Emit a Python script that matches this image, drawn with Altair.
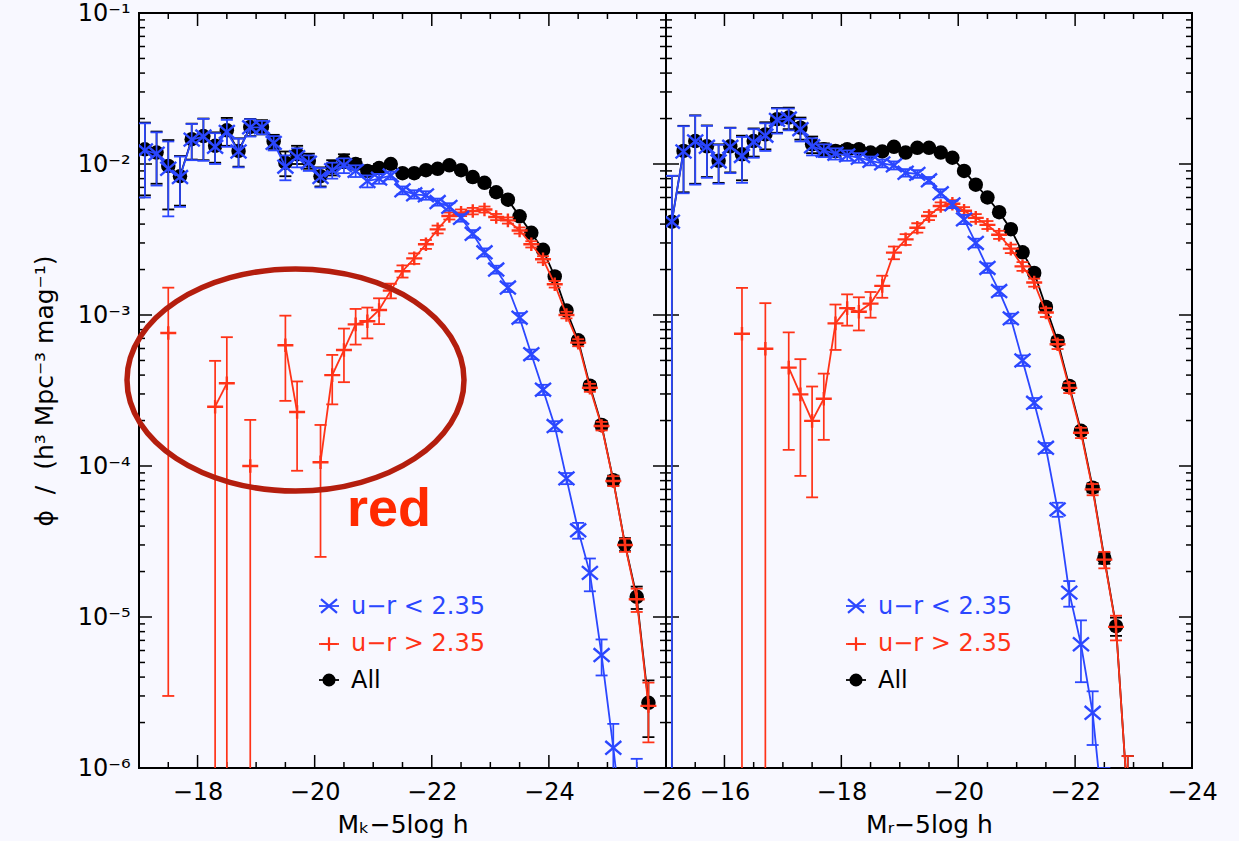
import altair as alt
import pandas as pd

FONT = "DejaVu Sans"
BLUE = "#2b47ff"
RED = "#ff3318"
RING = "#b41e0e"
BG = "#f8f8ff"

PANEL_H = 755
FLOOR = 1e-9  # stand-in for lower error bounds that fall below zero

# ---------------- K band (left panel) ----------------
K_MAG = [-17.1, -17.3, -17.5, -17.7, -17.9, -18.1, -18.3, -18.5, -18.7, -18.9,
         -19.1, -19.3, -19.5, -19.7, -19.9, -20.1, -20.3, -20.5, -20.7, -20.9,
         -21.1, -21.3, -21.5, -21.7, -21.9, -22.1, -22.3, -22.5, -22.7, -22.9,
         -23.1, -23.3, -23.5, -23.7, -23.9, -24.1, -24.3, -24.5, -24.7, -24.9,
         -25.1, -25.3, -25.5, -25.7]
K_ALL = [0.0125, 0.0119, 0.0097, 0.0083, 0.0146, 0.0153, 0.0132, 0.0167, 0.0122, 0.0176,
         0.0176, 0.0141, 0.0102, 0.0116, 0.0105, 0.0083, 0.0095, 0.0105, 0.0100, 0.0090,
         0.0094, 0.0100, 0.0087, 0.0087, 0.0091, 0.0093, 0.0098, 0.0091, 0.0082, 0.0075,
         0.0065, 0.0058, 0.0045, 0.0035, 0.0027, 0.0018, 0.00107, 0.00068, 0.00034, 0.000187,
         8.04e-5, 3.03e-5, 1.36e-5, 2.7e-6]
K_ALL_ERR = [0.0063, 0.0045, 0.0047, 0.0030, 0.0039, 0.0047, 0.0030, 0.0035, 0.0026, 0.0023,
             0.0019, 0.0015, 0.0019, 0.0016, 0.0012, 0.0012, 0.0011, 0.0011, 0.0008, 0.0007,
             0.0006, 0.0005, 0.0004, 0.0004, 0.0004, 0.0004, 0.0004, 0.0004, 0.00035, 0.0003,
             0.00026, 0.00023, 0.00018, 0.00014, 0.00011, 0.00008, 0.00005, 0.000035, 0.00002, 0.000012,
             6e-6, 3e-6, 2.3e-6, 1.1e-6]
K_BLUE = [0.0123, 0.0117, 0.0093, 0.0082, 0.0145, 0.0152, 0.0130, 0.0163, 0.0121, 0.0175,
          0.0175, 0.0138, 0.0096, 0.0111, 0.0102, 0.0082, 0.0091, 0.0098, 0.0090, 0.0077,
          0.0080, 0.0084, 0.0067, 0.0063, 0.0062, 0.0056, 0.0052, 0.0044, 0.00345, 0.0026,
          0.0020, 0.00152, 0.00096, 0.00055, 0.00032, 0.000184, 8.28e-5, 3.75e-5, 1.96e-5, 5.6e-6,
          1.36e-6, 3e-7, 1.5e-7]
K_BLUE_ERR = [0.0063, 0.0045, 0.0048, 0.0030, 0.0039, 0.0047, 0.0030, 0.0033, 0.0026, 0.0023,
              0.0018, 0.0015, 0.0018, 0.0016, 0.0012, 0.0012, 0.0011, 0.0011, 0.0008, 0.0007,
              0.0006, 0.0005, 0.0004, 0.0004, 0.0004, 0.0003, 0.0003, 0.00025, 0.0002, 0.00016,
              0.00012, 0.0001, 0.00007, 0.00004, 0.000025, 0.000014, 7e-6, 4.5e-6, 4.8e-6, 1.5e-6,
              6e-7, 6e-7, 1e-6]
K_RED_MAG = [-17.5, -18.3, -18.5, -18.9, -19.5, -19.7, -20.1, -20.3, -20.5, -20.7,
             -20.9, -21.1, -21.3, -21.5, -21.7, -21.9, -22.1, -22.3, -22.5, -22.7,
             -22.9, -23.1, -23.3, -23.5, -23.7, -23.9, -24.1, -24.3, -24.5, -24.7,
             -24.9, -25.1, -25.3, -25.5, -25.7]
K_RED = [7.6e-4, 2.47e-4, 3.53e-4, 1.0e-4, 6.3e-4, 2.28e-4, 1.06e-4, 4.0e-4, 5.86e-4, 8.67e-4,
         9.1e-4, 1.08e-3, 1.45e-3, 1.95e-3, 2.37e-3, 2.94e-3, 3.69e-3, 4.53e-3, 4.76e-3, 4.88e-3,
         5.0e-3, 4.46e-3, 4.23e-3, 3.63e-3, 2.94e-3, 2.34e-3, 1.6e-3, 1.0e-3, 6.56e-4, 3.3e-4,
         1.84e-4, 7.96e-5, 3.0e-5, 1.31e-5, 2.58e-6]
K_RED_ERR = [7.57e-4, 2.5e-4, 3.6e-4, 1.02e-4, 3.6e-4, 1.35e-4, 8.1e-5, 1.44e-4, 2.27e-4, 2.3e-4,
             2.1e-4, 2.1e-4, 1.6e-4, 1.8e-4, 1.9e-4, 2.0e-4, 2.2e-4, 2.4e-4, 2.4e-4, 2.4e-4,
             2.3e-4, 2.1e-4, 2.0e-4, 1.7e-4, 1.4e-4, 1.1e-4, 8e-5, 5e-5, 3.5e-5, 2e-5,
             1.2e-5, 6e-6, 3e-6, 2.3e-6, 1.1e-6]

# ---------------- r band (right panel) ----------------
R_MAG = [-15.1, -15.3, -15.5, -15.7, -15.9, -16.1, -16.3, -16.5, -16.7, -16.9,
         -17.1, -17.3, -17.5, -17.7, -17.9, -18.1, -18.3, -18.5, -18.7, -18.9,
         -19.1, -19.3, -19.5, -19.7, -19.9, -20.1, -20.3, -20.5, -20.7, -20.9,
         -21.1, -21.3, -21.5, -21.7, -21.9, -22.1, -22.3, -22.5, -22.7, -22.9]
R_ALL = [4.15e-3, 0.0122, 0.0142, 0.0131, 0.0105, 0.0131, 0.0116, 0.0142, 0.0157, 0.0198,
         0.0203, 0.0174, 0.0135, 0.0125, 0.0122, 0.0125, 0.0125, 0.0119, 0.0121, 0.0130,
         0.0119, 0.0128, 0.0128, 0.0119, 0.0110, 0.0090, 0.0073, 0.0060, 0.0048, 0.0037,
         0.0026, 0.0019, 0.00113, 6.73e-4, 3.39e-4, 1.71e-4, 7.18e-5, 2.45e-5, 8.7e-6, 6e-7]
R_ALL_ERR = [4.2e-3, 0.0057, 0.0068, 0.0049, 0.0030, 0.0043, 0.0038, 0.0030, 0.0032, 0.0037,
             0.0033, 0.0029, 0.0017, 0.0012, 0.0010, 0.0009, 0.0008, 0.0007, 0.0006, 0.0006,
             0.0005, 0.0005, 0.0005, 0.0004, 0.0004, 0.0004, 0.0003, 0.0003, 0.00025, 0.0002,
             0.00014, 0.0001, 0.00007, 0.00004, 0.00002, 0.00001, 5e-6, 2e-6, 1.2e-6, 6e-7]
R_BLUE = [4.15e-3, 0.0121, 0.0141, 0.0130, 0.0104, 0.0130, 0.0113, 0.0140, 0.0154, 0.0196,
          0.0200, 0.0170, 0.0131, 0.0123, 0.0117, 0.0114, 0.0110, 0.0105, 0.0101, 0.0098,
          0.00875, 0.0086, 0.0078, 0.0064, 0.0054, 0.0043, 0.0030, 0.00205, 0.00144, 9.5e-4,
          5.0e-4, 2.62e-4, 1.32e-4, 5.16e-5, 1.45e-5, 6.6e-6, 2.32e-6, 4e-7]
R_BLUE_ERR = [4.2e-3, 0.0057, 0.0068, 0.0049, 0.0030, 0.0043, 0.0038, 0.0030, 0.0032, 0.0037,
              0.0033, 0.0029, 0.0017, 0.0012, 0.0010, 0.0009, 0.0008, 0.0007, 0.0006, 0.0006,
              0.0005, 0.0005, 0.0004, 0.0004, 0.0003, 0.0003, 0.0002, 0.00015, 0.0001, 0.00007,
              0.00004, 0.00002, 0.00001, 5.5e-6, 2.8e-6, 2.9e-6, 9e-7, 6e-7]
R_RED_MAG = [-16.3, -16.7, -17.1, -17.3, -17.5, -17.7, -17.9, -18.1, -18.3, -18.5,
             -18.7, -18.9, -19.1, -19.3, -19.5, -19.7, -19.9, -20.1, -20.3, -20.5,
             -20.7, -20.9, -21.1, -21.3, -21.5, -21.7, -21.9, -22.1, -22.3, -22.5,
             -22.7, -22.9]
R_RED = [7.52e-4, 5.98e-4, 4.48e-4, 2.98e-4, 1.99e-4, 2.79e-4, 8.8e-4, 1.11e-3, 1.05e-3, 1.19e-3,
         1.56e-3, 2.59e-3, 3.17e-3, 3.78e-3, 4.53e-3, 5.27e-3, 5.46e-3, 4.9e-3, 4.4e-3, 3.95e-3,
         3.4e-3, 2.75e-3, 2.1e-3, 1.64e-3, 1.04e-3, 6.4e-4, 3.29e-4, 1.66e-4, 7.0e-5, 2.4e-5,
         8.6e-6, 6e-7]
R_RED_ERR = [7.6e-4, 6.0e-4, 3.2e-4, 2.12e-4, 1.37e-4, 1.3e-4, 2.93e-4, 2.6e-4, 2.6e-4, 2.3e-4,
             2.6e-4, 2.5e-4, 2.6e-4, 2.7e-4, 2.8e-4, 3.0e-4, 3.0e-4, 2.8e-4, 2.6e-4, 2.4e-4,
             2.1e-4, 1.8e-4, 1.4e-4, 1.0e-4, 7e-5, 4.5e-5, 2.5e-5, 1.3e-5, 6e-6, 3e-6,
             1.6e-6, 6e-7]

# ---------------- axes ----------------
Y_MAJOR = [1e-1, 1e-2, 1e-3, 1e-4, 1e-5, 1e-6]
Y_LABELS = ["10⁻¹", "10⁻²", "10⁻³", "10⁻⁴", "10⁻⁵", "10⁻⁶"]
Y_MINOR = [m * d for d in Y_MAJOR[1:] for m in range(2, 10)]
K_MAJOR = [-18, -20, -22, -24, -26]
K_MINOR = [-17.5, -18.5, -19.0, -19.5, -20.5, -21.0, -21.5, -22.5, -23.0, -23.5, -24.5, -25.0, -25.5]
R_MAJOR = [-16, -18, -20, -22, -24]
R_MINOR = [-15.5, -16.5, -17.0, -17.5, -18.5, -19.0, -19.5, -20.5, -21.0, -21.5, -22.5, -23.0, -23.5]

Y_TITLE = "ϕ\u00a0\u00a0/\u00a0\u00a0(h³ Mpc⁻³ mag⁻¹)"
K_TITLE = "Mₖ−5log h"
R_TITLE = "Mᵣ−5log h"
LEGEND = ["u−r < 2.35", "u−r > 2.35", "All"]

X_SHAPE = "M-1,-0.85L1,0.85M-1,0.85L1,-0.85"
PLUS_SHAPE = "M-1,0L1,0M0,-0.85L0,0.85"
RING_SHAPE = ("M-1,0C-1,-0.364,-0.552,-0.659,0,-0.659C0.552,-0.659,1,-0.364,1,0"
              "C1,0.364,0.552,0.659,0,0.659C-0.552,0.659,-1,0.364,-1,0Z")

# label expression turning the decade values into 10⁻ⁿ strings
label_expr = "'" + Y_LABELS[-1] + "'"
for v, t in reversed(list(zip(Y_MAJOR[:-1], Y_LABELS[:-1]))):
    label_expr = f"datum.value > {v * 0.5} ? '{t}' : ({label_expr})"


def frame(mag, phi, err):
    """Long table of one sample; 'seg' splits the line where bins are missing."""
    rows, seg = [], 0
    for i, (m, p, e) in enumerate(zip(mag, phi, err)):
        if i and abs(m - mag[i - 1]) > 0.25:
            seg += 1
        lo = p - e
        rows.append({"mag": m, "phi": p, "hi": p + e, "lo": lo if lo > 0 else FLOOR, "seg": seg})
    return pd.DataFrame(rows)


def panel(width, domain, major, minor, x_title, samples, with_y_axis, notes):
    xs = alt.Scale(domain=domain, reverse=True, nice=False, zero=False)
    ys = alt.Scale(type="log", domain=[1e-6, 1e-1], nice=False)
    xaxis = alt.Axis(title=x_title, values=major, format="d", ticks=False, domain=False,
                     grid=False, labelFlush=False, labelOverlap=False,
                     labelPadding=12, titlePadding=8)
    if with_y_axis:
        yaxis = alt.Axis(title=Y_TITLE, values=Y_MAJOR, labelExpr=label_expr, ticks=False,
                         domain=False, grid=False, labelFlush=False, labelOverlap=False,
                         labelPadding=9, titlePadding=20)
    else:
        yaxis = None

    def X(f):
        return alt.X(f"{f}:Q", scale=xs, axis=xaxis)

    def Y(f):
        return alt.Y(f"{f}:Q", scale=ys, axis=yaxis)

    layers = []
    # inward ticks on all four sides
    for vals, ln in ((major, 13), (minor, 6)):
        d = pd.DataFrame({"mag": vals})
        layers.append(alt.Chart(d).mark_rule(color="black", strokeWidth=1.5).encode(
            x=X("mag"), y=alt.value(PANEL_H), y2=alt.value(PANEL_H - ln)))
        layers.append(alt.Chart(d).mark_rule(color="black", strokeWidth=1.5).encode(
            x=X("mag"), y=alt.value(0), y2=alt.value(ln)))
    for vals, ln in ((Y_MAJOR, 13), (Y_MINOR, 6)):
        d = pd.DataFrame({"phi": vals})
        layers.append(alt.Chart(d).mark_rule(color="black", strokeWidth=1.5).encode(
            y=Y("phi"), x=alt.value(0), x2=alt.value(ln)))
        layers.append(alt.Chart(d).mark_rule(color="black", strokeWidth=1.5).encode(
            y=Y("phi"), x=alt.value(width), x2=alt.value(width - ln)))

    for df, color, kind in samples:
        base = alt.Chart(df)
        layers.append(base.mark_line(color=color, strokeWidth=1.8, clip=True).encode(
            x=X("mag"), y=Y("phi"), detail="seg:N"))
        layers.append(base.mark_rule(color=color, strokeWidth=1.7, clip=True).encode(
            x=X("mag"), y=Y("lo"), y2="hi:Q"))
        for f in ("lo", "hi"):
            layers.append(base.mark_tick(color=color, orient="horizontal", size=12,
                                         thickness=1.8, opacity=1, clip=True).encode(
                x=X("mag"), y=Y(f)))
        if kind == "circle":
            layers.append(base.mark_circle(color=color, size=210, opacity=1, clip=True).encode(
                x=X("mag"), y=Y("phi")))
        else:
            layers.append(base.mark_point(shape=kind, size=256, filled=False, color=color,
                                          strokeWidth=2.4, opacity=1, clip=True).encode(
                x=X("mag"), y=Y("phi")))

    # key
    key = [(LEGEND[0], BLUE, X_SHAPE, 593, 601), (LEGEND[1], RED, PLUS_SHAPE, 631, 638),
           (LEGEND[2], "black", "circle", 667, 675)]
    for text, color, kind, ysym, ytext in key:
        d = pd.DataFrame({"label": [text]})
        layers.append(alt.Chart(d).mark_rule(color=color, strokeWidth=1.8).encode(
            x=alt.value(180), x2=alt.value(200), y=alt.value(ysym)))
        if kind == "circle":
            layers.append(alt.Chart(d).mark_circle(color=color, size=170, opacity=1).encode(
                x=alt.value(190), y=alt.value(ysym)))
        else:
            layers.append(alt.Chart(d).mark_point(shape=kind, size=256, filled=False, color=color,
                                                  strokeWidth=2.2, opacity=1).encode(
                x=alt.value(190), y=alt.value(ysym)))
        layers.append(alt.Chart(d).mark_text(align="left", baseline="alphabetic", font=FONT,
                                             fontSize=24, color=color).encode(
            text="label:N", x=alt.value(212), y=alt.value(ytext)))

    layers.extend(notes)
    return alt.layer(*layers).properties(width=width, height=PANEL_H)


note_df = pd.DataFrame({"label": ["red"]})
ring = alt.Chart(note_df).mark_point(shape=RING_SHAPE, size=(2 * 168.5) ** 2, filled=False,
                                     color=RING, strokeWidth=5.5, opacity=1).encode(
    x=alt.value(156.5), y=alt.value(367))
red_word = alt.Chart(note_df).mark_text(align="left", baseline="alphabetic",
                                        font="Liberation Sans", fontWeight="bold",
                                        fontSize=54, color="#ff2a00").encode(
    text="label:N", x=alt.value(208), y=alt.value(513))

left = panel(527, [-26, -17], K_MAJOR, K_MINOR, K_TITLE,
             [(frame(K_MAG, K_ALL, K_ALL_ERR), "black", "circle"),
              (frame(K_RED_MAG, K_RED, K_RED_ERR), RED, PLUS_SHAPE),
              (frame(K_MAG[:len(K_BLUE)], K_BLUE, K_BLUE_ERR), BLUE, X_SHAPE)],
             True, [ring, red_word])
right = panel(526, [-24, -15], R_MAJOR, R_MINOR, R_TITLE,
              [(frame(R_MAG, R_ALL, R_ALL_ERR), "black", "circle"),
               (frame(R_RED_MAG, R_RED, R_RED_ERR), RED, PLUS_SHAPE),
               (frame(R_MAG[:len(R_BLUE)], R_BLUE, R_BLUE_ERR), BLUE, X_SHAPE)],
              False, [])

chart = (
    alt.hconcat(left, right, spacing=0, bounds="flush")
    .resolve_scale(x="independent", y="independent")
    .properties(background=BG, padding={"left": 31, "top": 0, "right": 20, "bottom": 5})
    .configure_view(stroke="black", strokeWidth=2, fill=BG)
    .configure_axis(labelFont=FONT, labelFontSize=24, labelColor="black",
                    titleFont=FONT, titleFontSize=25, titleColor="black",
                    titleFontWeight="normal")
)

chart.save("out.html", embed_options={"renderer": "svg", "actions": False})
